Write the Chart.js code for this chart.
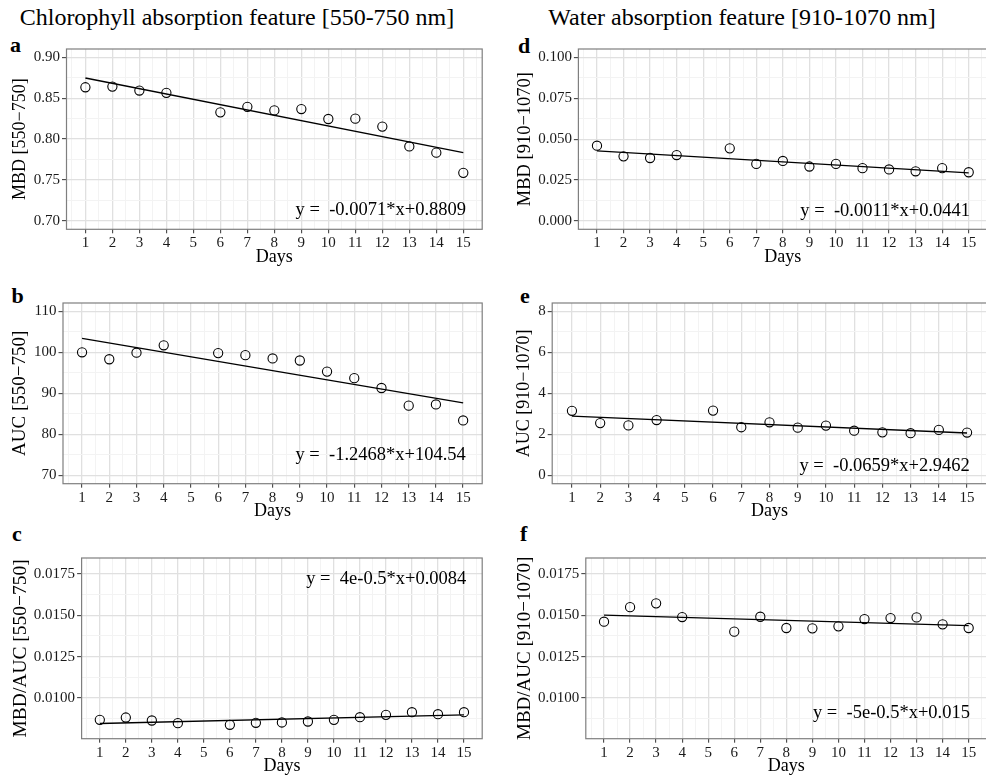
<!DOCTYPE html>
<html lang="en">
<head>
<meta charset="UTF-8">
<title>Chlorophyll and water absorption features over days</title>
<style>
  html, body { margin: 0; padding: 0; background: #fff; overflow: hidden; }
  body { width: 986px; height: 779px; position: relative; font-family: "Liberation Serif", "DejaVu Serif", serif; color: #000; }
  canvas { position: absolute; }
  .txt { position: absolute; white-space: nowrap; }
  .head { font-size: 24px; line-height: 24px; width: 500px; text-align: center; }
  .tag { font-size: 22px; line-height: 22px; font-weight: bold; }
</style>
</head>
<body>
<div class="txt head" style="left:-13px; top:5px;">Chlorophyll absorption feature [550-750 nm]</div>
<div class="txt head" style="left:492px; top:5px;">Water absorption feature [910-1070 nm]</div>
<div class="txt tag" style="left:10px; top:33.6px;">a</div>
<div class="txt tag" style="left:11.5px; top:284.6px;">b</div>
<div class="txt tag" style="left:12px; top:522.6px;">c</div>
<div class="txt tag" style="left:518px; top:34.6px;">d</div>
<div class="txt tag" style="left:520px; top:284.6px;">e</div>
<div class="txt tag" style="left:520px; top:522.6px;">f</div>

<canvas id="panelA"></canvas>
<canvas id="panelB"></canvas>
<canvas id="panelC"></canvas>
<canvas id="panelD"></canvas>
<canvas id="panelE"></canvas>
<canvas id="panelF"></canvas>

<script src="https://cdn.jsdelivr.net/npm/chart.js@4.4.0/dist/chart.umd.min.js"></script>
<script>
// days that were measured (day 5 is missing)
const days = [1, 2, 3, 4, 6, 7, 8, 9, 10, 11, 12, 13, 14, 15];
const dayTicks = [1, 2, 3, 4, 5, 6, 7, 8, 9, 10, 11, 12, 13, 14, 15];
const fitDays = [1, 15];

// chlorophyll feature [550-750]
const mbdChl = [0.8633, 0.8641, 0.8593, 0.8565, 0.8327, 0.8395, 0.8351, 0.8367, 0.8246, 0.8250, 0.8153, 0.7911, 0.7835, 0.7589];
const mbdChlFit = [0.8746, 0.7835];
const aucChl = [100.0, 98.3, 99.9, 101.7, 99.8, 99.3, 98.5, 98.0, 95.3, 93.7, 91.3, 87.0, 87.3, 83.4];
const aucChlFit = [103.4, 87.7];
const ratioChl = [0.00868, 0.00882, 0.00864, 0.00848, 0.00838, 0.00850, 0.00852, 0.00858, 0.00868, 0.00884, 0.00898, 0.00914, 0.00902, 0.00914];
const ratioChlFit = [0.00846, 0.00898];

// water feature [910-1070]
const mbdWat = [0.0460, 0.0395, 0.0385, 0.0403, 0.0444, 0.0349, 0.0367, 0.0333, 0.0349, 0.0323, 0.0315, 0.0304, 0.0323, 0.0298];
const mbdWatFit = [0.0429, 0.0294];
const aucWat = [3.15, 2.55, 2.44, 2.70, 3.16, 2.35, 2.59, 2.33, 2.43, 2.18, 2.10, 2.06, 2.22, 2.09];
const aucWatFit = [2.89, 2.07];
const ratioWat = [0.01461, 0.01549, 0.01572, 0.01489, 0.01401, 0.01491, 0.01423, 0.01421, 0.01433, 0.01477, 0.01483, 0.01487, 0.01445, 0.01423];
const ratioWatFit = [0.01501, 0.01437];

// y tick labels
const mbdChlTicks = [0.70, 0.75, 0.80, 0.85, 0.90];
const aucChlTicks = [70, 80, 90, 100, 110];
const ratioTicks = [0.0100, 0.0125, 0.0150, 0.0175];
const mbdWatTicks = [0.000, 0.025, 0.050, 0.075, 0.100];
const aucWatTicks = [0, 2, 4, 6, 8];

const SERIF = '"Liberation Serif", "DejaVu Serif", serif';
const MAJOR = '#e0e0e0';
const MINOR = '#f3f3f3';

// halfway gridlines between the labelled ones
function halfSteps(ticks, min, max) {
    const step = ticks[1] - ticks[0];
    const out = ticks.map(t => t - step / 2);
    out.push(ticks[ticks.length - 1] + step / 2);
    return out.filter(v => v > min && v < max);
}

function isMajor(v, ticks) {
    return ticks.some(t => Math.abs(t - v) < 1e-9);
}

const framePlugin = {
    id: 'frame',
    afterDatasetsDraw(chart, args, opts) {
        const ctx = chart.ctx;
        const a = chart.chartArea;
        ctx.save();
        ctx.strokeStyle = '#7f7f7f';
        ctx.lineWidth = 1.2;
        ctx.strokeRect(a.left, a.top, a.right - a.left, a.bottom - a.top);
        // regression equation
        ctx.fillStyle = '#000';
        ctx.font = '18.5px ' + SERIF;
        ctx.textAlign = 'right';
        ctx.textBaseline = 'middle';
        const x = chart.scales.x.getPixelForValue(opts.at[0]);
        const y = chart.scales.y.getPixelForValue(opts.at[1]);
        ctx.fillText(opts.text, x, y);
        ctx.restore();
    }
};

function makePanel(id, p) {
    const canvas = document.getElementById(id);
    const top = p.area.t - 10;
    const height = Math.round(p.area.b + 38.7 - top);
    canvas.width = p.canvas.w;
    canvas.height = height;
    canvas.style.left = p.canvas.x + 'px';
    canvas.style.top = top + 'px';

    const yAxisWidth = p.area.l - p.canvas.x;
    const xAxisHeight = height - (p.area.b - top);
    const xGrid = dayTicks.concat(halfSteps(dayTicks, 0.3, 15.7));
    const yGrid = p.ticks.concat(halfSteps(p.ticks, p.min, p.max));

    const points = days.map((d, i) => ({ x: d, y: p.values[i] }));
    const fit = fitDays.map((d, i) => ({ x: d, y: p.fit[i] }));

    new Chart(canvas, {
        type: 'scatter',
        data: {
            datasets: [{
                data: points,
                showLine: false,
                pointRadius: 4.6,
                pointBorderWidth: 1.1,
                pointBorderColor: '#000',
                pointBackgroundColor: 'rgba(0,0,0,0)'
            }, {
                data: fit,
                showLine: true,
                pointRadius: 0,
                borderColor: '#000',
                borderWidth: 1.3
            }]
        },
        options: {
            responsive: false,
            animation: false,
            events: [],
            layout: {
                padding: { left: 0, top: p.area.t - top, right: p.canvas.x + p.canvas.w - p.area.r, bottom: 0 }
            },
            plugins: {
                legend: { display: false },
                tooltip: { enabled: false },
                frame: { text: p.eq, at: p.eqAt }
            },
            scales: {
                x: {
                    type: 'linear',
                    min: 0.3,
                    max: 15.7,
                    afterBuildTicks: axis => { axis.ticks = xGrid.map(v => ({ value: v })); },
                    afterFit: axis => { axis.height = xAxisHeight; },
                    border: { display: false },
                    grid: {
                        color: c => (c.tick && Number.isInteger(c.tick.value)) ? MAJOR : MINOR,
                        lineWidth: c => (c.tick && Number.isInteger(c.tick.value)) ? 1.3 : 1,
                        tickColor: c => (c.tick && Number.isInteger(c.tick.value)) ? '#333' : 'rgba(0,0,0,0)',
                        tickWidth: 1,
                        tickLength: 4
                    },
                    ticks: {
                        autoSkip: false,
                        maxRotation: 0,
                        padding: 1,
                        color: '#1a1a1a',
                        font: { family: SERIF, size: 15 },
                        callback: v => Number.isInteger(v) ? String(v) : ''
                    },
                    title: {
                        display: true,
                        text: 'Days',
                        color: '#000',
                        padding: { top: 0, bottom: 0 },
                        font: { family: SERIF, size: 18 }
                    }
                },
                y: {
                    type: 'linear',
                    min: p.min,
                    max: p.max,
                    afterBuildTicks: axis => { axis.ticks = yGrid.map(v => ({ value: v })); },
                    afterFit: axis => { axis.width = yAxisWidth; },
                    border: { display: false },
                    grid: {
                        color: c => (c.tick && isMajor(c.tick.value, p.ticks)) ? MAJOR : MINOR,
                        lineWidth: c => (c.tick && isMajor(c.tick.value, p.ticks)) ? 1.3 : 1,
                        tickColor: c => (c.tick && isMajor(c.tick.value, p.ticks)) ? '#333' : 'rgba(0,0,0,0)',
                        tickWidth: 1,
                        tickLength: 4.5
                    },
                    ticks: {
                        autoSkip: false,
                        padding: 2,
                        color: '#1a1a1a',
                        font: { family: SERIF, size: 15 },
                        callback: v => isMajor(v, p.ticks) ? v.toFixed(p.decimals) : ''
                    },
                    title: {
                        display: true,
                        text: p.title,
                        color: '#000',
                        padding: { top: p.titleX - p.titleSize * 0.6, bottom: 0 },
                        font: { family: SERIF, size: p.titleSize }
                    }
                }
            }
        },
        plugins: [framePlugin]
    });
}

const leftCol = { x: 0, w: 493 };
const rightCol = { x: 493, w: 500 };

makePanel('panelA', {
    canvas: leftCol, area: { l: 66.5, t: 47.7, r: 482.2, b: 229 },
    min: 0.69, max: 0.91, ticks: mbdChlTicks, decimals: 2,
    values: mbdChl, fit: mbdChlFit,
    title: 'MBD [550\u2212750]', titleX: 20, titleSize: 18,
    eq: 'y =  -0.0071*x+0.8809', eqAt: [15.10, 0.7132]
});
makePanel('panelB', {
    canvas: leftCol, area: { l: 63, t: 302.3, r: 482.2, b: 484 },
    min: 68, max: 112, ticks: aucChlTicks, decimals: 0,
    values: aucChl, fit: aucChlFit,
    title: 'AUC [550\u2212750]', titleX: 20, titleSize: 19,
    eq: 'y =  -1.2468*x+104.54', eqAt: [15.10, 74.9]
});
makePanel('panelC', {
    canvas: leftCol, area: { l: 81.6, t: 557.3, r: 482.2, b: 739 },
    min: 0.00754, max: 0.01846, ticks: ratioTicks, decimals: 4,
    values: ratioChl, fit: ratioChlFit,
    title: 'MBD/AUC [550\u2212750]', titleX: 20.5, titleSize: 19.5,
    eq: 'y =  4e-0.5*x+0.0084', eqAt: [15.09, 0.01716]
});
makePanel('panelD', {
    canvas: rightCol, area: { l: 578.4, t: 47.7, r: 987.3, b: 229 },
    min: -0.005, max: 0.105, ticks: mbdWatTicks, decimals: 3,
    values: mbdWat, fit: mbdWatFit,
    title: 'MBD [910\u22121070]', titleX: 32.5, titleSize: 18.5,
    eq: 'y =  -0.0011*x+0.0441', eqAt: [15.05, 0.00618]
});
makePanel('panelE', {
    canvas: rightCol, area: { l: 552.2, t: 302.3, r: 986.8, b: 484 },
    min: -0.4, max: 8.4, ticks: aucWatTicks, decimals: 0,
    values: aucWat, fit: aucWatFit,
    title: 'AUC [910\u22121070]', titleX: 31.7, titleSize: 18,
    eq: 'y =  -0.0659*x+2.9462', eqAt: [15.10, 0.448]
});
makePanel('panelF', {
    canvas: rightCol, area: { l: 585.8, t: 557.3, r: 986.9, b: 739 },
    min: 0.00754, max: 0.01846, ticks: ratioTicks, decimals: 4,
    values: ratioWat, fit: ratioWatFit,
    title: 'MBD/AUC [910\u22121070]', titleX: 32.5, titleSize: 19,
    eq: 'y =  -5e-0.5*x+0.015', eqAt: [15.05, 0.00910]
});
</script>
</body>
</html>
